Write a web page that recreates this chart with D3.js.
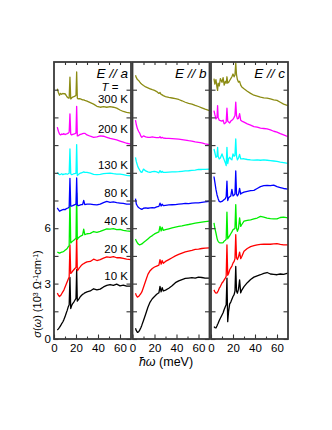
<!DOCTYPE html>
<html>

<head>
  <meta charset="utf-8" />
  <title>sigma(omega)</title>
  <style>
    body {
      margin: 0;
      background: #fff;
    }

    text {
      font-family: "Liberation Sans", Arial, sans-serif;
    }
  </style>
  <script src="https://cdnjs.cloudflare.com/ajax/libs/d3/7.8.5/d3.min.js"></script>
</head>

<body>
  <script>
    // temperatures, colours and vertical shift of each curve (10^3 Ohm^-1 cm^-1)
    var temps = [10, 20, 40, 80, 130, 200, 300];
    var colors = ['#000000', '#ff0000', '#00ee00', '#0000ff', '#00ffff', '#ff00ff', '#8c8c14'];
    var offsets = [0, 1.5, 3, 4.5, 6, 7.5, 9];
    var panelNames = ['a', 'b', 'c'];

    // E // a
    var energyA = [3, 4, 5, 6, 7, 8, 9, 10, 11, 12, 13, 13.8, 14.5, 15.2, 16, 17, 18, 19, 20, 20.6, 21.2, 22, 23, 24, 25, 26, 27, 28, 30, 33, 36, 39, 42, 45, 48, 51, 54, 57, 60, 63, 66, 70];
    var sigmaA = [
      [0.49, 0.55, 0.63, 0.72, 0.83, 0.92, 1.05, 1.2, 1.38, 1.55, 1.75, 1.85, 3.33, 1.65, 1.8, 1.92, 2.0, 2.1, 2.2, 3.75, 2.05, 2.12, 2.2, 2.3, 2.36, 2.42, 2.45, 2.5, 2.55, 2.6, 2.72, 2.66, 2.7, 2.82, 2.9, 2.95, 2.9, 2.97, 2.88, 2.92, 2.86, 2.86],
      [0.98, 0.88, 0.8, 0.85, 0.95, 1.05, 1.15, 1.3, 1.45, 1.6, 1.75, 1.85, 3.6, 2.05, 2.1, 2.18, 2.25, 2.32, 2.38, 4.06, 2.2, 2.25, 2.35, 2.42, 2.5, 2.55, 2.58, 2.62, 2.68, 2.7, 2.82, 2.75, 2.8, 2.88, 2.95, 2.92, 2.96, 2.9, 2.9, 2.86, 2.82, 2.8],
      [1.71, 1.68, 1.65, 1.68, 1.7, 1.72, 1.75, 1.8, 1.85, 1.9, 2.0, 2.05, 4.7, 2.2, 2.25, 2.3, 2.35, 2.4, 2.45, 4.9, 2.4, 2.47, 2.52, 2.56, 2.6, 2.62, 2.95, 2.65, 2.7, 2.72, 2.82, 2.78, 2.83, 2.9, 2.96, 2.95, 2.98, 2.92, 2.94, 2.88, 2.85, 2.83],
      [2.6, 2.5, 2.42, 2.45, 2.48, 2.5, 2.52, 2.5, 2.55, 2.58, 2.6, 2.65, 4.2, 2.7, 2.7, 2.72, 2.75, 2.78, 2.8, 4.22, 2.75, 2.72, 2.74, 2.76, 2.78, 2.78, 3.0, 2.78, 2.8, 2.8, 2.78, 2.76, 2.8, 2.88, 2.95, 2.9, 2.92, 2.88, 2.86, 2.84, 2.8, 2.8],
      [3.02, 2.95, 2.9, 2.92, 2.95, 2.9, 2.93, 2.93, 2.95, 2.92, 2.95, 2.98, 4.29, 2.95, 2.9, 2.92, 2.95, 2.96, 2.98, 4.53, 2.85, 2.9, 2.95, 2.98, 3.0, 3.02, 3.05, 3.02, 3.02, 2.98, 2.92, 2.9, 2.92, 2.95, 2.97, 2.98, 2.95, 2.93, 2.93, 2.9, 2.86, 2.84],
      [3.97, 3.75, 3.6, 3.55, 3.6, 3.58, 3.62, 3.57, 3.6, 3.62, 3.65, 3.7, 4.69, 3.6, 3.55, 3.58, 3.6, 3.62, 3.65, 5.1, 3.5, 3.5, 3.55, 3.58, 3.6, 3.62, 3.64, 3.64, 3.55, 3.48, 3.42, 3.45, 3.5, 3.48, 3.42, 3.36, 3.32, 3.28, 3.22, 3.16, 3.1, 3.05],
      [4.55, 4.35, 4.2, 4.3, 4.25, 4.3, 4.28, 4.28, 4.2, 4.1, 4.05, 4.05, 5.18, 4.0, 4.05, 4.1, 4.12, 4.15, 4.2, 5.46, 4.05, 4.0, 4.02, 4.0, 3.98, 3.95, 3.95, 3.92, 3.88, 3.8, 3.72, 3.6, 3.55, 3.58, 3.55, 3.58, 3.55, 3.5, 3.4, 3.32, 3.27, 3.23]
    ];

    // E // b
    var energyB = [2.7, 3.5, 4.5, 5.5, 6.5, 7.5, 8.5, 10, 12, 14, 16, 18, 20, 22, 24, 25, 26, 27, 28, 30, 33, 36, 39, 42, 45, 48, 51, 54, 57, 60, 63, 66, 70];
    var sigmaB = [
      [0.58, 0.45, 0.36, 0.38, 0.48, 0.6, 0.75, 1.0, 1.35, 1.72, 2.0, 2.18, 2.3, 2.42, 2.5, 2.85, 2.55, 2.78, 2.6, 2.65, 2.75, 2.88, 3.05, 3.15, 3.22, 3.28, 3.3, 3.32, 3.3, 3.35, 3.33, 3.3, 3.3],
      [0.98, 0.85, 0.77, 0.8, 0.88, 0.95, 1.05, 1.3, 1.65, 2.0, 2.2, 2.32, 2.4, 2.45, 2.5, 2.8, 2.55, 2.75, 2.6, 2.7, 2.8, 2.9, 3.0, 3.08, 3.15, 3.22, 3.26, 3.3, 3.35, 3.37, 3.4, 3.42, 3.43],
      [2.42, 2.3, 2.2, 2.13, 2.1, 2.12, 2.15, 2.23, 2.32, 2.42, 2.52, 2.6, 2.69, 2.75, 2.8, 3.1, 2.85, 3.05, 2.88, 2.92, 2.97, 3.02, 3.06, 3.1, 3.13, 3.17, 3.2, 3.24, 3.27, 3.3, 3.33, 3.36, 3.38],
      [3.1, 2.8, 2.7, 2.62, 2.58, 2.55, 2.52, 2.58, 2.6, 2.58, 2.6, 2.62, 2.6, 2.65, 2.68, 2.86, 2.7, 2.8, 2.72, 2.74, 2.76, 2.77, 2.78, 2.8, 2.82, 2.84, 2.83, 2.86, 2.87, 2.87, 2.9, 2.93, 2.96],
      [3.84, 3.6, 3.4, 3.25, 3.15, 3.05, 3.02, 3.2, 3.1, 3.05, 3.02, 3.06, 3.08, 3.05, 3.0, 3.12, 3.02, 3.08, 3.02, 3.02, 3.04, 3.05, 3.05, 3.06, 3.08, 3.1, 3.11, 3.13, 3.15, 3.18, 3.18, 3.19, 3.2],
      [4.35, 4.1, 3.88, 3.75, 3.65, 3.5, 3.42, 3.5, 3.45, 3.42, 3.42, 3.44, 3.42, 3.4, 3.4, 3.45, 3.38, 3.42, 3.38, 3.37, 3.36, 3.35, 3.34, 3.32, 3.3, 3.27, 3.24, 3.22, 3.18, 3.15, 3.12, 3.07, 3.03],
      [5.28, 5.15, 5.05, 5.0, 4.92, 4.85, 4.8, 4.73, 4.65, 4.6, 4.55, 4.5, 4.46, 4.4, 4.3, 4.35, 4.25, 4.22, 4.18, 4.13, 4.08, 4.05, 4.02, 3.97, 3.9, 3.82, 3.76, 3.72, 3.65, 3.59, 3.52, 3.45, 3.37]
    ];

    // E // c
    var energyC = [2.7, 3.5, 4.5, 5.5, 6, 6.5, 7.5, 8.5, 10, 11, 12, 13, 13.8, 14.5, 15.2, 16, 17, 18, 19, 20, 21, 21.8, 22.5, 23.2, 24, 25, 26, 27, 28, 30, 33, 36, 39, 42, 45, 48, 51, 54, 57, 60, 63, 66, 70];
    var sigmaC = [
      [0.67, 0.62, 0.6, 0.72, 0.8, 0.85, 1.0, 1.12, 1.3, 1.42, 1.6, 1.75, 1.85, 3.3, 0.94, 1.5, 1.9, 2.0, 2.15, 2.3, 2.4, 2.6, 3.93, 2.6, 2.48, 2.7, 3.2, 2.5, 2.65, 2.84, 3.05, 3.22, 3.35, 3.42, 3.48, 3.55, 3.6, 3.52, 3.5, 3.48, 3.52, 3.5, 3.57],
      [1.16, 1.05, 0.98, 1.0, 1.05, 1.1, 1.25, 1.34, 1.53, 1.6, 1.7, 1.8, 1.9, 3.6, 1.95, 2.05, 2.25, 2.35, 2.45, 2.61, 2.7, 2.85, 4.15, 2.9, 2.8, 2.95, 3.2, 2.85, 2.97, 3.25, 3.4, 3.5, 3.55, 3.6, 3.62, 3.63, 3.64, 3.63, 3.65, 3.66, 3.62, 3.6, 3.6],
      [3.29, 3.0, 2.74, 2.45, 2.35, 2.29, 2.22, 2.2, 2.2, 2.22, 2.3, 2.35, 2.4, 3.87, 2.43, 2.5, 2.6, 2.7, 2.8, 2.92, 2.95, 3.0, 4.28, 3.0, 2.83, 3.0, 3.56, 3.1, 3.2, 3.38, 3.42, 3.45, 3.5, 3.55, 3.64, 3.6, 3.55, 3.52, 3.5, 3.5, 3.58, 3.6, 3.56],
      [4.3, 4.0, 3.6, 3.3, 3.2, 3.1, 2.95, 2.92, 2.95, 3.0, 3.05, 3.1, 3.2, 4.05, 3.0, 3.15, 3.2, 3.25, 3.6, 3.25, 3.3, 3.35, 4.6, 3.35, 3.25, 3.35, 3.65, 3.35, 3.4, 3.45, 3.5, 3.53, 3.55, 3.65, 3.75, 3.8, 3.82, 3.8, 3.83, 3.75, 3.7, 3.65, 3.62],
      [4.29, 4.1, 3.84, 3.9, 4.38, 3.9, 3.75, 3.8, 4.02, 3.85, 3.7, 3.55, 3.39, 4.38, 3.5, 3.75, 3.84, 3.75, 3.7, 4.02, 3.9, 3.95, 4.83, 3.9, 3.7, 3.8, 4.0, 3.75, 3.75, 3.76, 3.72, 3.7, 3.69, 3.7, 3.68, 3.7, 3.68, 3.66, 3.64, 3.62, 3.58, 3.55, 3.51],
      [4.87, 4.65, 4.42, 4.5, 5.14, 4.5, 4.35, 4.33, 4.3, 4.35, 4.15, 4.2, 4.25, 5.0, 4.3, 4.25, 4.2, 4.3, 4.35, 4.4, 4.5, 4.6, 5.33, 4.6, 4.42, 4.45, 4.7, 4.35, 4.3, 4.24, 4.15, 4.08, 4.0, 3.97, 3.92, 3.9, 3.88, 3.82, 3.75, 3.7, 3.62, 3.55, 3.46],
      [5.1, 4.8, 5.05, 4.6, 4.46, 4.85, 4.7, 5.1, 4.9, 5.15, 4.75, 4.95, 4.85, 5.2, 4.86, 4.9, 5.0, 5.1, 5.2, 5.35, 5.2, 5.3, 5.95, 5.3, 5.05, 4.91, 4.95, 4.75, 4.65, 4.55, 4.42, 4.3, 4.2, 4.15, 4.1, 4.06, 4.04, 4.0, 3.95, 3.92, 3.82, 3.72, 3.64]
    ];

    var energies = [energyA, energyB, energyC];
    var sigmas = [sigmaA, sigmaB, sigmaC];

    var w = 332, h = 430;
    var plotTop = 62, plotBottom = 339;
    var panelLeft = [54, 132.5, 211], panelW = 77;

    var svg = d3.select('body').append('svg')
      .attr('width', w)
      .attr('height', h);

    var yScale = d3.scaleLinear().domain([0, 15]).range([plotBottom, plotTop]);
    var yTicks = [0, 1.5, 3, 4.5, 6, 7.5, 9, 10.5, 12, 13.5];
    var yLabels = [0, 3, 6];
    var noLabel = function () { return ''; };

    function styleAxis(ax) {
      ax.select('.domain').remove();
      ax.selectAll('line').attr('stroke', '#333').attr('stroke-width', 1.1);
      ax.selectAll('text')
        .attr('font-size', 11.5)
        .attr('fill', '#000')
        .style('font-family', '"Liberation Sans", Arial, sans-serif');
    }

    panelNames.forEach(function (name, p) {
      var L = panelLeft[p];
      var xScale = d3.scaleLinear().domain([0, 70]).range([L, L + panelW]);

      svg.append('clipPath').attr('id', 'clip' + p)
        .append('rect')
        .attr('x', L).attr('y', plotTop)
        .attr('width', panelW).attr('height', plotBottom - plotTop);

      var g = svg.append('g').attr('clip-path', 'url(#clip' + p + ')');
      var line = d3.line()
        .x(function (d) { return xScale(d[0]); })
        .y(function (d) { return yScale(d[1]); });

      temps.forEach(function (t, i) {
        var pts = energies[p].map(function (e, j) { return [e, sigmas[p][i][j] + offsets[i]]; });
        g.append('path')
          .datum(pts)
          .attr('d', line)
          .attr('fill', 'none')
          .attr('stroke', colors[i])
          .attr('stroke-width', 1.3)
          .attr('stroke-linejoin', 'round');
      });

      // ticks point inward on all four sides
      svg.append('g').attr('transform', 'translate(0,' + plotBottom + ')')
        .call(d3.axisBottom(xScale).tickValues([0, 20, 40, 60]).tickSize(-4.5).tickPadding(5))
        .call(styleAxis);
      svg.append('g').attr('transform', 'translate(0,' + plotBottom + ')')
        .call(d3.axisBottom(xScale).tickValues([10, 30, 50]).tickSize(-2.5).tickFormat(noLabel))
        .call(styleAxis);
      svg.append('g').attr('transform', 'translate(0,' + plotTop + ')')
        .call(d3.axisTop(xScale).tickValues([10, 20, 30, 40, 50, 60]).tickSize(-3).tickFormat(noLabel))
        .call(styleAxis);
      svg.append('g').attr('transform', 'translate(' + L + ',0)')
        .call(d3.axisLeft(yScale).tickValues(yTicks).tickSize(-4.5).tickPadding(3)
          .tickFormat(function (d) { return p === 0 && yLabels.indexOf(d) >= 0 ? d : ''; }))
        .call(styleAxis);
      svg.append('g').attr('transform', 'translate(' + (L + panelW) + ',0)')
        .call(d3.axisRight(yScale).tickValues(yTicks).tickSize(-4.5).tickFormat(noLabel))
        .call(styleAxis);

      svg.append('rect')
        .attr('x', L).attr('y', plotTop)
        .attr('width', panelW).attr('height', plotBottom - plotTop)
        .attr('fill', 'none')
        .attr('stroke', '#3a3a3a')
        .attr('stroke-width', 1.8);

      svg.append('text')
        .attr('x', L + panelW - 3).attr('y', 78)
        .attr('text-anchor', 'end')
        .attr('font-size', 13.5)
        .attr('font-style', 'italic')
        .text('E // ' + name);

      if (p === 0) {
        svg.append('text')
          .attr('x', 110).attr('y', 91)
          .attr('text-anchor', 'middle')
          .attr('font-size', 11.5)
          .html('<tspan font-style="italic">T</tspan> =');

        temps.forEach(function (t, i) {
          var hi = d3.max(energyA.map(function (e, j) { return e >= 48 ? sigmaA[i][j] + offsets[i] : -1; }));
          svg.append('text')
            .attr('x', L + panelW - 3)
            .attr('y', yScale(hi) - 4)
            .attr('text-anchor', 'end')
            .attr('font-size', 11.5)
            .text(t + ' K');
        });
      }
    });

    svg.append('text')
      .attr('x', 166).attr('y', 366)
      .attr('text-anchor', 'middle')
      .attr('font-size', 12.5)
      .html('<tspan font-style="italic">ħω</tspan>  (meV)');

    svg.append('text')
      .attr('transform', 'translate(41,294) rotate(-90)')
      .attr('text-anchor', 'middle')
      .attr('font-size', 11)
      .html('<tspan font-style="italic">σ</tspan>(<tspan font-style="italic">ω</tspan>) (10<tspan baseline-shift="super" font-size="7">3</tspan> Ω<tspan baseline-shift="super" font-size="7">-1</tspan>cm<tspan baseline-shift="super" font-size="7">-1</tspan>)');
  </script>
</body>

</html>
